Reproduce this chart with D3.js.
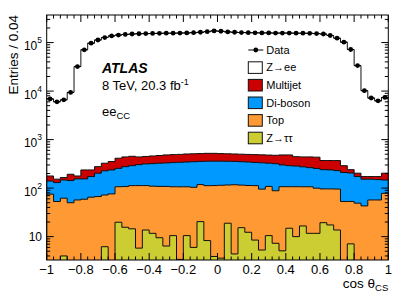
<!DOCTYPE html>
<html><head><meta charset="utf-8">
<script src="https://cdn.jsdelivr.net/npm/d3@7"></script>
<style>
html,body{margin:0;padding:0;background:#fff;}
svg{display:block;font-family:"Liberation Sans",Arial,Helvetica,sans-serif;}
</style></head>
<body>
<svg id="c" width="409" height="294"></svg>
<script>
// ---- data (50 bins of cos theta_CS, width 0.04) ----
const binEdgesRange = [-1, 1];
const nBins = 50;
const dataCounts = [6900,6000,6600,9400,32000,71000,97000,113000,127000,137000,
  143000,147000,150000,152000,153000,154000,155000,156000,156000,157000,
  158000,160000,163000,168000,174000,171000,166000,163000,161000,160000,
  159000,158000,158000,157000,157000,157000,156000,156000,155000,153000,
  150000,140000,123000,102000,72000,33500,10200,7200,6300,7400];
const zee = [6720,5850,6430,9200,31800,70800,96800,112700,126700,136600,
  142600,146600,149500,151600,152500,153500,154500,155500,155500,156500,
  157500,159500,162500,167500,173500,170500,165500,162500,160500,159500,
  158500,157500,157500,156500,156500,156500,155600,155600,154600,152600,
  149600,139600,122600,101700,71800,33300,10000,7000,6100,7200];
const multijet = [38,23,18,50,23,82,64,74,99,116,
  157,163,162,135,134,140,144,153,155,155,
  160,160,160,163,161,155,152,150,150,150,
  152,153,154,157,183,193,160,165,175,180,
  130,133,140,80,35,30,20,20,23,56];
const diboson = [65,77,85,93,98,96,108,136,155,161,
  149,169,178,192,203,210,218,222,229,234,
  239,246,237,246,247,245,242,238,235,232,
  226,237,218,230,193,183,178,168,158,155,
  144,141,134,157,152,124,110,96,93,69];
const topQuark = [75,53,58,50,57,59,65,67,66,76,
  87,92,98,107,99,98,99,102,96,103,
  96,98,98,104,109,111,97,113,100,101,
  104,90,98,81,102,92,97,90,95,88,
  77,79,82,53,46,49,43,57,57,78];
const ztautau = [0,0,4,0,0,0,0,0,6.2,0,
  19.8,15.6,14.5,5.8,13.7,11.7,9.5,6.4,10.5,3.4,
  10.5,6.0,20.4,8.3,3.9,3.6,18.9,4.4,15.3,12.3,
  8.5,5.3,10.5,7.3,5.1,14.9,10,16.6,11.7,11.7,
  19.4,17.4,13.7,0,7.1,0,0,0,0,0];
const xTickLabels = ["\u22121","\u22120.8","\u22120.6","\u22120.4","\u22120.2","0","0.2","0.4","0.6","0.8","1"];
const xTickValues = [-1,-0.8,-0.6,-0.4,-0.2,0,0.2,0.4,0.6,0.8,1];
const yTickValues = [10,100,1000,10000,100000];
const yTickExps = ["","2","3","4","5"];
const yDomain = [3.3, 3.7e5];
const legendItems = [
  {name:"Z\u2192ee", color:"#ffffff"},
  {name:"Multijet", color:"#cc0000"},
  {name:"Di-boson", color:"#0099ff"},
  {name:"Top", color:"#ff9933"},
  {name:"Z\u2192\u03c4\u03c4", color:"#cccc33"}
];

// ---- layout ----
const L = 46.7, R = 388.3, T = 15, B = 260;
const svg = d3.select("#c");
const x = d3.scaleLinear().domain(binEdgesRange).range([L, R]);
const y = d3.scaleLog().domain(yDomain).range([B, T]).clamp(true);
const bw = (binEdgesRange[1]-binEdgesRange[0])/nBins;

// stacks (bottom -> top)
const layers = [ztautau, topQuark, diboson, multijet, zee];
const colors = ["#cccc33","#ff9933","#0099ff","#cc0000","#ffffff"];
const cum = [];
let run = new Array(nBins).fill(0);
layers.forEach(l => { run = run.map((v,i)=>v + l[i]); cum.push(run.slice()); });

svg.append("clipPath").attr("id","pc").append("rect")
  .attr("x",L).attr("y",T).attr("width",R-L).attr("height",B-T);
const g = svg.append("g").attr("clip-path","url(#pc)");

function stepPts(vals){
  const pts = [];
  vals.forEach((v,i)=>{
    const x0 = binEdgesRange[0]+i*bw, x1 = x0+bw;
    pts.push([x0,v],[x1,v]);
  });
  return pts;
}
const yv = v => v > yDomain[0] ? y(v) : B+1;
const area = d3.area().x(d=>x(d[0])).y0(B+1).y1(d=>yv(d[1]));
for (let k = cum.length-1; k >= 0; k--) {
  g.append("path").attr("d", area(stepPts(cum[k])))
    .attr("fill", colors[k]).attr("stroke","#111").attr("stroke-width",1);
}

// data points
g.selectAll("line.e").data(dataCounts).join("line")
  .attr("x1",(d,i)=>x(binEdgesRange[0]+i*bw)).attr("x2",(d,i)=>x(binEdgesRange[0]+(i+1)*bw))
  .attr("y1",d=>y(d)).attr("y2",d=>y(d)).attr("stroke","#000").attr("stroke-width",1);
g.selectAll("circle.d").data(dataCounts).join("circle")
  .attr("cx",(d,i)=>x(binEdgesRange[0]+(i+0.5)*bw)).attr("cy",d=>y(d)).attr("r",2.4).attr("fill","#000");

// ---- axes (ROOT style, inward ticks on all sides) ----
const xMinor = d3.range(0,51).map(i=>-1+i*0.04);
function xAxisTicks(yy, dir){
  svg.append("g").selectAll("line").data(xMinor).join("line")
    .attr("x1",d=>x(d)).attr("x2",d=>x(d)).attr("y1",yy)
    .attr("y2",(d,i)=> yy + dir*(i%5===0 ? 7 : 3.5))
    .attr("stroke","#000").attr("stroke-width",1);
}
xAxisTicks(B,-1); xAxisTicks(T,1);
const yMinor = [];
for (let e=0;e<=5;e++) for (let m=1;m<10;m++){ const v=m*Math.pow(10,e); if (v>=yDomain[0] && v<=yDomain[1]) yMinor.push(v); }
function yAxisTicks(xx, dir){
  svg.append("g").selectAll("line").data(yMinor).join("line")
    .attr("y1",d=>y(d)).attr("y2",d=>y(d)).attr("x1",xx)
    .attr("x2",d=> xx + dir*(Math.abs(Math.log10(d)-Math.round(Math.log10(d)))<1e-9 ? 7 : 3.5))
    .attr("stroke","#000").attr("stroke-width",1);
}
yAxisTicks(L,1); yAxisTicks(R,-1);
svg.append("rect").attr("x",L).attr("y",T).attr("width",R-L).attr("height",B-T)
  .attr("fill","none").attr("stroke","#000").attr("stroke-width",1);

// x tick labels
svg.append("g").selectAll("text").data(xTickValues).join("text")
  .attr("x",d=>x(d)).attr("y",273.5).attr("text-anchor","middle")
  .attr("font-size",13).text((d,i)=>xTickLabels[i]);
// y tick labels
yTickValues.forEach((v,i)=>{
  const t = svg.append("text").attr("x",42).attr("font-size",12).attr("text-anchor","end");
  if (yTickExps[i]==="") { t.attr("y",y(v)+4.3).text("10"); }
  else {
    t.attr("y",y(v)+7.5);
    t.append("tspan").text("10");
    t.append("tspan").attr("dy",-7).attr("font-size",8.5).text(yTickExps[i]);
  }
});
// axis titles
svg.append("text").attr("transform","translate(17.5,15) rotate(-90)").attr("text-anchor","end")
  .attr("font-size",13.5).text("Entries / 0.04");
const xt = svg.append("text").attr("x",388.3).attr("y",288).attr("text-anchor","end").attr("font-size",13.5);
xt.append("tspan").text("cos \u03b8");
xt.append("tspan").attr("dy",3).attr("font-size",9.5).text("CS");

// labels
svg.append("text").attr("x",102).attr("y",73).attr("font-size",14).attr("font-weight","bold")
  .attr("font-style","italic").text("ATLAS");
const lum = svg.append("text").attr("x",102).attr("y",90).attr("font-size",13);
lum.append("tspan").text("8 TeV, 20.3 fb");
lum.append("tspan").attr("dy",-5).attr("font-size",9).text("-1");
const ch = svg.append("text").attr("x",102).attr("y",116).attr("font-size",13);
ch.append("tspan").text("ee");
ch.append("tspan").attr("dy",3).attr("font-size",9.5).text("CC");

// legend
const lx = 248.3, ly0 = 50, ldy = 17.6;
svg.append("line").attr("x1",lx).attr("x2",lx+15).attr("y1",ly0).attr("y2",ly0).attr("stroke","#000");
svg.append("circle").attr("cx",lx+7.5).attr("cy",ly0).attr("r",2.4).attr("fill","#000");
svg.append("text").attr("x",lx+18).attr("y",ly0+3.8).attr("font-size",11).text("Data");
legendItems.forEach((it,i)=>{
  const cy = ly0 + ldy*(i+1);
  svg.append("rect").attr("x",lx).attr("y",cy-5.8).attr("width",14).attr("height",11.6)
    .attr("fill",it.color).attr("stroke","#111").attr("stroke-width",1);
  svg.append("text").attr("x",lx+18).attr("y",cy+3.8).attr("font-size",11).text(it.name);
});
</script>
</body></html>
